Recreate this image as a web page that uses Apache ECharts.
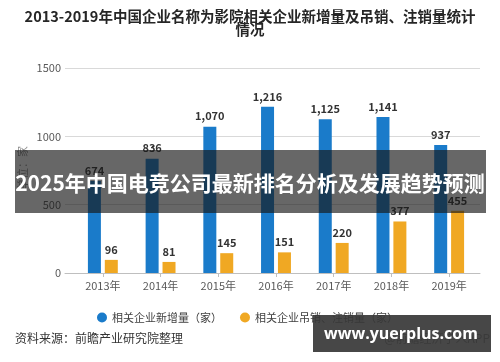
<!DOCTYPE html>
<html>
<head>
<meta charset="utf-8">
<script src="https://cdn.jsdelivr.net/npm/echarts@6/dist/echarts.min.js"></script>
<style>
  html, body { margin: 0; padding: 0; background: #ffffff; }
  #chart { width: 500px; height: 362px; }
</style>
</head>
<body>
<div id="chart"></div>
<script>
const categories = ['2013年', '2014年', '2015年', '2016年', '2017年', '2018年', '2019年'];
const newCompanies = [674, 836, 1070, 1216, 1125, 1141, 937];
const revokedCompanies = [96, 81, 145, 151, 220, 377, 455];
const seriesNames = ['相关企业新增量（家）', '相关企业吊销、注销量（家）'];
const yTicks = [0, 500, 1000, 1500];

const FONT = '"Noto Sans CJK SC", "Noto Sans", sans-serif';
const fmt = v => v.toLocaleString('en-US');

const chart = echarts.init(document.getElementById('chart'), null, { renderer: 'canvas' });

const option = {
  backgroundColor: '#ffffff',
  textStyle: { fontFamily: FONT },
  animation: false,
  legend: {
    left: 92,
    top: 307,
    itemWidth: 10,
    itemHeight: 10,
    itemGap: 18,
    icon: 'circle',
    data: seriesNames,
    textStyle: { fontSize: 11, color: '#404040', fontFamily: FONT }
  },
  grid: [
    { left: 65, right: 20, top: 68, bottom: 89 },
    { left: 74, right: 22, top: 68, bottom: 89 }
  ],
  xAxis: [
    {
      gridIndex: 0, type: 'value', min: 0, max: 1,
      axisLine: { show: true, lineStyle: { color: '#bfbfbf', width: 1 } },
      axisTick: { show: false }, axisLabel: { show: false }, splitLine: { show: false }
    },
    {
      gridIndex: 1, type: 'category', data: categories,
      axisLine: { show: false },
      axisTick: { show: true, alignWithLabel: true, length: 4, lineStyle: { color: '#bfbfbf' } },
      axisLabel: { fontSize: 11, color: '#595959', margin: 7, fontFamily: FONT }
    }
  ],
  yAxis: [
    {
      gridIndex: 0, type: 'value', min: yTicks[0], max: yTicks[yTicks.length - 1], interval: 500,
      axisLine: { show: false }, axisTick: { show: false },
      axisLabel: { fontSize: 11, color: '#595959', margin: 4, fontFamily: FONT, formatter: v => String(v) },
      splitLine: { show: true, lineStyle: { color: '#d9d9d9', width: 1 } }
    },
    {
      gridIndex: 1, type: 'value', min: yTicks[0], max: yTicks[yTicks.length - 1], interval: 500,
      show: false, splitLine: { show: false }
    }
  ],
  series: [
    {
      name: seriesNames[0], type: 'bar', xAxisIndex: 1, yAxisIndex: 1,
      data: newCompanies, barWidth: 13, barGap: '30%',
      itemStyle: { color: '#1a7bca' },
      label: { show: true, position: 'top', distance: 5, fontSize: 11, fontWeight: 'bold', color: '#333333',
               formatter: p => fmt(p.value) }
    },
    {
      name: seriesNames[1], type: 'bar', xAxisIndex: 1, yAxisIndex: 1,
      data: revokedCompanies, barWidth: 13, barGap: '30%',
      itemStyle: { color: '#f0a823' },
      label: { show: true, position: 'top', distance: 5, fontSize: 11, fontWeight: 'bold', color: '#333333',
               formatter: p => fmt(p.value) }
    }
  ],
  graphic: [
    {
      type: 'text', x: 250, y: 10,
      style: { text: '2013-2019年中国企业名称为影院相关企业新增量及吊销、注销量统计\n情况',
               fill: '#262626', fontSize: 14.5, lineHeight: 13, fontWeight: 'bold', fontFamily: FONT,
               align: 'center', verticalAlign: 'top' }
    },
    {
      type: 'text', x: 23, y: 168, rotation: Math.PI / 2,
      style: { text: '单位：家', fill: '#8c8c8c', fontSize: 11, fontFamily: FONT, align: 'center', verticalAlign: 'middle' }
    },
    {
      type: 'text', x: 15, y: 338,
      style: { text: '资料来源：前瞻产业研究院整理', fill: '#333333', fontSize: 12, fontFamily: FONT, verticalAlign: 'middle' }
    },
    {
      type: 'text', x: 490, y: 338,
      style: { text: '@前瞻经济学人APP', fill: '#595959', fontSize: 12, fontFamily: FONT, align: 'right', verticalAlign: 'middle' }
    },
    {
      type: 'rect', z: 100, shape: { x: 15, y: 150, width: 471, height: 63 },
      style: { fill: 'rgba(25,25,25,0.66)' }
    },
    {
      type: 'text', z: 101, x: 250, y: 183,
      style: { text: '2025年中国电竞公司最新排名分析及发展趋势预测', fill: '#ffffff', fontSize: 21, fontWeight: 'bold',
               fontFamily: FONT, align: 'center', verticalAlign: 'middle' }
    },
    {
      type: 'rect', z: 100, shape: { x: 313, y: 315, width: 178, height: 37 },
      style: { fill: 'rgba(55,55,55,0.92)' }
    },
    {
      type: 'text', z: 101, x: 401, y: 334,
      style: { text: 'www.yuerplus.com', fill: '#ffffff', fontSize: 16, fontWeight: 'bold',
               fontFamily: '"Open Sans", "DejaVu Sans", sans-serif', align: 'center', verticalAlign: 'middle' }
    }
  ]
};

chart.setOption(option);
</script>
</body>
</html>
